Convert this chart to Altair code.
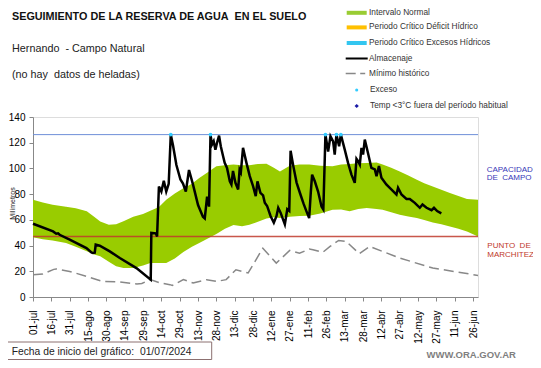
import altair as alt
import pandas as pd

# ---------------- data ----------------
BAND_DAYS = [0, 8, 16, 27, 35, 44, 50, 55, 62, 68, 74, 82, 90, 96, 103, 109, 116, 123, 130,
             136, 143, 150, 157, 164, 171, 177, 184, 191, 197, 202, 210, 218, 226, 235, 245,
             252, 259, 266, 273, 281, 286, 293, 300, 307, 314, 320, 327, 334, 341, 348, 355, 364]
BAND_UPPER = [75.7, 73.5, 71.8, 70.2, 69.0, 66.6, 62.5, 58.8, 56.2, 56.5, 59.0, 62.5, 64.5, 67.0,
              70.0, 75.7, 80.5, 84.5, 88.0, 92.5, 97.0, 101.6, 102.5, 103.0, 102.5, 102.5, 103.5,
              103.7, 100.5, 97.7, 102.0, 103.0, 103.0, 102.0, 101.6, 103.0, 103.5, 104.0, 104.2,
              104.7, 103.0, 100.5, 97.7, 94.5, 91.2, 88.5, 86.0, 83.5, 80.9, 78.5, 76.2, 75.7]
BAND_LOWER = [46.5, 45.0, 44.0, 42.0, 39.0, 35.5, 33.0, 31.6, 27.5, 24.0, 22.5, 22.5, 24.5, 26.4,
              26.4, 26.4, 30.0, 35.0, 39.0, 42.0, 45.5, 49.0, 53.0, 56.0, 55.0, 56.2, 58.5, 61.0,
              62.0, 61.4, 62.5, 63.0, 63.2, 65.0, 67.9, 68.0, 66.6, 68.5, 69.2, 68.5, 67.9, 66.0,
              64.0, 62.7, 61.4, 59.8, 58.0, 56.5, 54.9, 53.0, 51.0, 47.1]

MIN_DAYS = [0, 8, 17, 19, 30, 44, 57, 71, 85, 89, 96, 104, 112, 114, 123, 131, 142, 150, 158,
            166, 176, 188, 199, 210, 218, 226, 229, 237, 243, 250, 256, 267, 275.5, 300, 327, 364]
MIN_HIST = [17.3, 17.8, 21.5, 21.8, 19.9, 16.0, 12.1, 11.7, 10.1, 10.5, 13.5, 10.9, 9.6, 9.0,
            13.5, 10.9, 13.5, 12.1, 13.5, 21.2, 18.7, 38.0, 26.4, 36.2, 34.0, 37.3, 36.8, 34.7,
            39.3, 44.0, 43.3, 33.7, 39.3, 30.3, 22.5, 16.8]

ALM_DAYS = [0, 16.4, 19, 20.5, 21.8, 30, 43.7, 47.8, 49, 50.5, 51.3, 54.6, 62.8, 71, 84.6, 96.3,
            96.8, 100.5, 101.5, 103, 105, 107, 109, 111, 112.7, 114.5, 117.3, 120.6, 122.7, 125,
            127.6, 131, 135, 139, 140.5, 142.4, 144, 145.2, 146.4, 147.8, 149.2, 150.5, 152.2,
            153.6, 155.5, 156.8, 158.7, 161, 162.3, 163.6, 165.6, 167.8, 169, 170, 171.8, 174.6,
            177.3, 180, 182.2, 183.6, 186, 188.2, 189.6, 191.5, 194.3, 197, 199.2, 200.6, 202.5,
            206, 208, 209.6, 210.7, 212.9, 215.6, 218.5, 221.3, 223.7, 225.9, 227.2, 228.3,
            230.5, 233.2, 236, 237.5, 239.2, 241.4, 243.3, 245.5, 246.8, 248.2, 250.4, 251.8,
            255, 257.7, 260.5, 263.2, 264.6, 265.9, 267.3, 268.7, 270, 271.4, 274, 276.8, 279.6,
            281, 283, 285, 289, 293.3, 297.3, 298.6, 301.4, 305.5, 308.2, 312.3, 316.4, 318.6,
            321.9, 326, 328, 330.6, 334]
ALMACENAJE = [57.0, 51.0, 49.2, 49.5, 48.4, 44.6, 38.1, 34.7, 34.2, 34.5, 40.7, 39.9, 35.5, 30.3,
              22.5, 13.5, 49.8, 49.5, 47.1, 86.0, 82.0, 90.4, 82.0, 88.0, 126.3, 118.0, 102.6,
              91.4, 88.3, 82.0, 98.8, 87.0, 71.5, 62.5, 61.2, 78.0, 70.3, 126.3, 118.5, 121.1,
              114.6, 119.8, 125.5, 117.2, 109.5, 104.3, 100.4, 90.0, 87.5, 98.0, 88.8, 83.6, 99.0,
              97.0, 116.0, 104.3, 94.0, 86.2, 78.4, 90.0, 81.0, 79.0, 73.3, 70.8, 63.0, 57.8,
              63.0, 69.4, 65.6, 56.5, 68.3, 67.0, 113.7, 102.0, 89.0, 80.5, 72.6, 66.6, 61.4,
              81.0, 95.2, 90.0, 82.0, 70.3, 68.0, 126.3, 113.2, 125.0, 121.0, 110.8, 126.3, 117.2,
              126.3, 114.6, 104.3, 95.2, 88.8, 107.4, 105.6, 103.0, 116.0, 110.8, 122.4, 112.0,
              100.4, 99.2, 94.0, 101.8, 92.7, 87.5, 83.6, 79.7, 84.9, 79.7, 76.3, 76.3, 73.2,
              69.4, 71.9, 69.4, 67.5, 69.4, 66.8, 65.0]

EXC_DAYS = [112.7, 145.2, 239.2, 248.2, 251.8]
EXC_VALS = [126.3, 126.3, 126.3, 126.3, 126.3]

CAPACIDAD = 126.3
MARCHITEZ = 47.0

TICK_DAYS = [0, 15, 30, 45, 60, 75, 90, 105, 120, 135, 150, 165, 180, 195, 210, 225, 240,
             255, 270, 285, 300, 315, 330, 345, 360]
TICK_LABELS = ["01-jul", "16-jul", "31-jul", "15-ago", "30-ago", "14-sep", "29-sep", "14-oct",
               "29-oct", "13-nov", "28-nov", "13-dic", "28-dic", "12-ene", "27-ene", "11-feb",
               "26-feb", "13-mar", "28-mar", "12-abr", "27-abr", "12-may", "27-may", "11-jun",
               "26-jun"]
Y_TICKS = [0, 20, 40, 60, 80, 100, 120, 140]

TITLE = "SEGUIMIENTO DE LA RESERVA DE AGUA\u00a0 EN EL SUELO"
SUBTITLE = "Hernando\u00a0 - Campo Natural"
NOTE = "(no hay\u00a0 datos de heladas)"
LEGEND_LABELS = ["Intervalo Normal", "Periodo Crítico Déficit Hídrico",
                 "Periodo Crítico Excesos Hídricos", "Almacenaje", "Mínimo histórico",
                 "Exceso", "Temp <3°C fuera del período habitual"]
FECHA = "Fecha de inicio del gráfico:\u00a0 01/07/2024"
WEB = "WWW.ORA.GOV.AR"

# ---------------- chart ----------------
FONT = "Liberation Sans"
W, H = 445, 180

band_df = pd.DataFrame({"day": BAND_DAYS, "upper": BAND_UPPER, "lower": BAND_LOWER})
min_df = pd.DataFrame({"day": MIN_DAYS, "v": MIN_HIST})
alm_df = pd.DataFrame({"day": ALM_DAYS, "v": ALMACENAJE})
exc_df = pd.DataFrame({"day": EXC_DAYS, "v": EXC_VALS})
ref_df = pd.DataFrame({"v": [CAPACIDAD, MARCHITEZ], "k": ["cap", "mar"]})

label_expr = "[" + ",".join("'%s'" % t for t in TICK_LABELS) + "][round(datum.value / 15)]"

def X(field="day"):
    return alt.X(f"{field}:Q",
                 scale=alt.Scale(domain=[0, 364], nice=False, zero=False),
                 axis=alt.Axis(values=TICK_DAYS, labelExpr=label_expr, labelAngle=270,
                               labelAlign="right", labelBaseline="middle", labelPadding=9,
                               tickSize=4, title=None, grid=False, labelFlush=False,
                               labelOverlap=False))

def Y(field):
    return alt.Y(f"{field}:Q",
                 scale=alt.Scale(domain=[0, 140], nice=False),
                 axis=alt.Axis(values=Y_TICKS, tickSize=4, labelPadding=4, grid=False,
                               title="Milímetros", titleFontSize=7, titleFontWeight="normal",
                               titleAngle=270, titleX=-21, titleY=86, titleAlign="center",
                               titleBaseline="middle", titleColor="#222"))

band = alt.Chart(band_df).mark_area(color="#99CC00", opacity=1).encode(
    x=X(), y=Y("upper"), y2="lower:Q")

cap_line = alt.Chart(ref_df[ref_df.k == "cap"]).mark_rule(color="#6F8FD8", strokeWidth=1).encode(
    y=Y("v"))
mar_line = alt.Chart(ref_df[ref_df.k == "mar"]).mark_rule(color="#C0392B", strokeWidth=1.6,
                                                          opacity=0.85).encode(y=Y("v"))

min_line = alt.Chart(min_df).mark_line(color="#888888", strokeWidth=1.5,
                                       strokeDash=[10, 5]).encode(x=X(), y=Y("v"))
alm_line = alt.Chart(alm_df).mark_line(color="black", strokeWidth=2.5,
                                       strokeJoin="miter").encode(x=X(), y=Y("v"))
exc_pts = alt.Chart(exc_df).mark_point(filled=True, color="#33CCFF", size=14,
                                       opacity=1).encode(x=X(), y=Y("v"))

one = pd.DataFrame({"a": [0]})

def txt(s, x, y, size, color="#222", weight="normal", align="left"):
    return alt.Chart(one).mark_text(text=s, font=FONT, fontSize=size, color=color,
                                    fontWeight=weight, align=align, baseline="middle").encode(
        x=alt.value(x), y=alt.value(y))

ox, oy = 33, 117  # plot origin on page
deco = []
deco.append(txt(TITLE, 12 - ox, 16.6 - oy, 10.8, "#111", "bold"))
deco.append(txt(SUBTITLE, 12 - ox, 48.5 - oy, 10.8, "#222"))
deco.append(txt(NOTE, 12 - ox, 74.5 - oy, 10.8, "#222"))

# legend
rows = [12.8, 27.4, 43.0, 58.5, 73.5, 90.0, 106.0]
lx0, lx1, ltx = 346.7 - ox, 366.7 - ox, 369 - ox
sym_colors = ["#99CC33", "#FFC000", "#33C6F0"]
for i in range(3):
    deco.append(alt.Chart(one).mark_rule(color=sym_colors[i], strokeWidth=4).encode(
        x=alt.value(lx0), x2=alt.value(lx1), y=alt.value(rows[i] - oy)))
deco.append(alt.Chart(one).mark_rule(color="black", strokeWidth=2).encode(
    x=alt.value(345.7 - ox), x2=alt.value(367.7 - ox), y=alt.value(rows[3] - oy)))
deco.append(alt.Chart(one).mark_rule(color="#888888", strokeWidth=1.5,
                                     strokeDash=[10, 4.5, 5, 100]).encode(
    x=alt.value(345.7 - ox), x2=alt.value(366 - ox), y=alt.value(rows[4] - oy)))
deco.append(alt.Chart(one).mark_point(filled=True, color="#33CCFF", size=10, opacity=1).encode(
    x=alt.value(356.7 - ox), y=alt.value(rows[5] - oy)))
deco.append(alt.Chart(one).mark_point(filled=True, shape="diamond", color="#1A1AA6", size=18,
                                      opacity=1).encode(
    x=alt.value(356.7 - ox), y=alt.value(rows[6] - oy)))
for i, lab in enumerate(LEGEND_LABELS):
    deco.append(txt(lab, ltx + (1 if i >= 5 else 0), rows[i] - oy, 8.3, "#333"))

# right labels
deco.append(txt("CAPACIDAD", 486.7 - ox, 170.3 - oy, 8, "#3838B8"))
deco.append(txt("DE\u00a0 CAMPO", 486.7 - ox, 178.3 - oy, 8, "#3838B8"))
deco.append(txt("PUNTO\u00a0 DE", 487.3 - ox, 245.7 - oy, 8, "#C0392B"))
deco.append(txt("MARCHITEZ", 487.3 - ox, 255.3 - oy, 8, "#C0392B"))

# bottom box and web
deco.append(alt.Chart(one).mark_rect(fill="white", stroke="#8C7070", strokeWidth=1).encode(
    x=alt.value(7.3 - ox), x2=alt.value(211.7 - ox), y=alt.value(342 - oy),
    y2=alt.value(359.5 - oy)))
deco.append(txt(FECHA, 11.7 - ox, 351.5 - oy, 10.3, "#222"))
deco.append(txt(WEB, 426.5 - ox, 355 - oy, 9.5, "#7F7F7F", "bold"))

chart = alt.layer(band, cap_line, mar_line, min_line, alm_line, exc_pts, *deco).properties(
    width=W, height=H,
    autosize=alt.AutoSizeParams(type="none"),
    padding={"left": 25, "top": 109, "right": 55, "bottom": 63},
).configure_view(stroke=None).configure_axis(
    labelFont=FONT, labelFontSize=8.5, labelColor="#1a1a1a", domainColor="#444",
    tickColor="#444", titleFont=FONT, domainWidth=1,
).configure(background="white")

chart.save("out.html", embed_options={"renderer": "svg", "actions": False})
